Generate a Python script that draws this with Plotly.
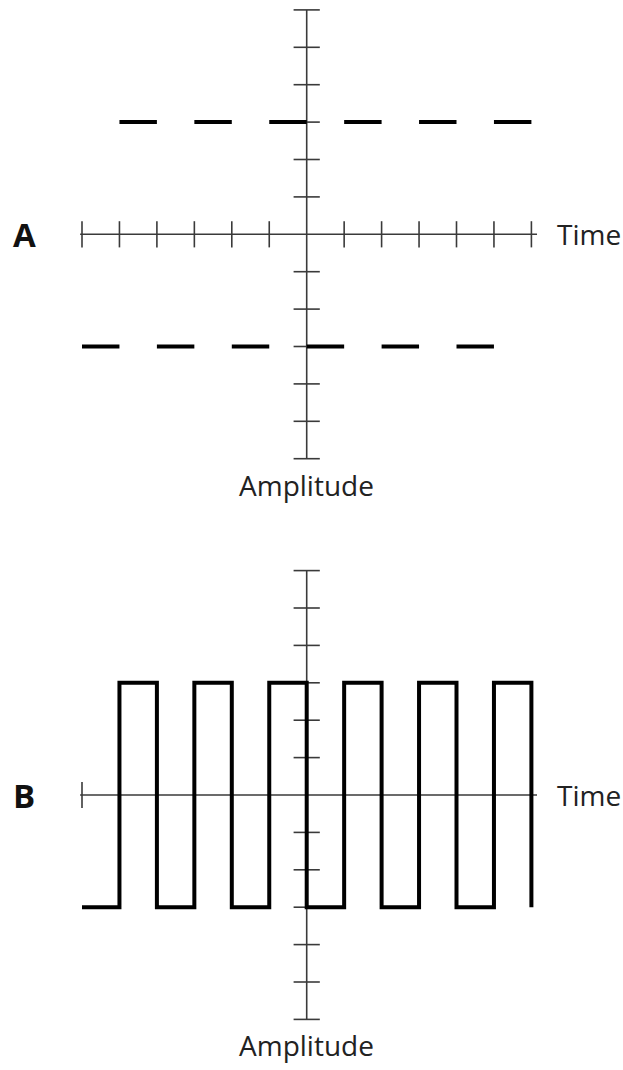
import plotly.graph_objects as go

# ---- data ----
edge_times = [-6, -5, -4, -3, -2, -1, 0, 1, 2, 3, 4, 5, 6]
interval_levels = [-3, 3, -3, 3, -3, 3, -3, 3, -3, 3, -3, 3]
final_level = -3
time_ticks_A = [-6, -5, -4, -3, -2, -1, 1, 2, 3, 4, 5, 6]
time_ticks_B = [-6]
amp_ticks = [-6, -5, -4, -3, -2, -1, 1, 2, 3, 4, 5, 6]
time_axis_span = [-6.05, 6.15]
amp_axis_span = [-6, 6]
panel_labels = ["A", "B"]
x_label = "Time"
y_label = "Amplitude"

W, H = 623, 1070
UX = 37.45   # px per unit (x)
UY = 37.4    # px per unit (y)
CX = 306.7   # px of origin (x)
CY_A = 234.3
CY_B = 795.0
SPLIT = 535.0

TICK = 0.35
AXIS_COLOR = "#3a3a3a"
AXIS_W = 1.6
WAVE_W = 4

fig = go.Figure()


def axis_traces(xa, ya, xticks):
    fig.add_trace(go.Scatter(x=time_axis_span, y=[0, 0], mode="lines",
                             line=dict(color=AXIS_COLOR, width=AXIS_W),
                             xaxis=xa, yaxis=ya, hoverinfo="skip"))
    fig.add_trace(go.Scatter(x=[0, 0], y=amp_axis_span, mode="lines",
                             line=dict(color=AXIS_COLOR, width=AXIS_W),
                             xaxis=xa, yaxis=ya, hoverinfo="skip"))
    tx, ty = [], []
    for t in xticks:
        tx += [t, t, None]
        ty += [-TICK, TICK, None]
    for a in amp_ticks:
        tx += [-TICK, TICK, None]
        ty += [a, a, None]
    fig.add_trace(go.Scatter(x=tx, y=ty, mode="lines",
                             line=dict(color=AXIS_COLOR, width=AXIS_W),
                             xaxis=xa, yaxis=ya, hoverinfo="skip"))


# Panel A
axis_traces("x", "y", time_ticks_A)
dx, dy = [], []
for i, lvl in enumerate(interval_levels):
    dx += [edge_times[i], edge_times[i + 1], None]
    dy += [lvl, lvl, None]
fig.add_trace(go.Scatter(x=dx, y=dy, mode="lines",
                         line=dict(color="black", width=WAVE_W),
                         xaxis="x", yaxis="y", hoverinfo="skip"))

# Panel B
axis_traces("x2", "y2", time_ticks_B)
fig.add_trace(go.Scatter(x=edge_times, y=interval_levels + [final_level],
                         mode="lines", line=dict(color="black", width=WAVE_W, shape="hv"),
                         xaxis="x2", yaxis="y2", hoverinfo="skip"))

xr = [-CX / UX, (W - CX) / UX]
yrA = [-(SPLIT - CY_A) / UY, CY_A / UY]
yrB = [-(H - CY_B) / UY, (CY_B - SPLIT) / UY]
dom_split = 1 - SPLIT / H

hidden = dict(visible=False, showgrid=False, zeroline=False, fixedrange=True)
fig.update_layout(
    width=W, height=H,
    margin=dict(l=0, r=0, t=0, b=0, pad=0),
    paper_bgcolor="white", plot_bgcolor="white",
    showlegend=False,
    xaxis=dict(range=xr, domain=[0, 1], anchor="y", **hidden),
    yaxis=dict(range=yrA, domain=[dom_split, 1], anchor="x", **hidden),
    xaxis2=dict(range=xr, domain=[0, 1], anchor="y2", **hidden),
    yaxis2=dict(range=yrB, domain=[0, dom_split], anchor="x2", **hidden),
)

font_lbl = dict(family="Open Sans", size=28, color="#222222")
font_panel = dict(family="Open Sans", size=33, color="#111111")
for lbl, xa, ya in [(panel_labels[0], "x", "y"), (panel_labels[1], "x2", "y2")]:
    fig.add_annotation(x=(24 - CX) / UX, y=0, xref=xa, yref=ya, text="<b>" + lbl + "</b>",
                       showarrow=False, xanchor="center", yanchor="middle", font=font_panel)
    fig.add_annotation(x=(555 - CX) / UX, y=0, xref=xa, yref=ya, text=x_label,
                       showarrow=False, xanchor="left", yanchor="middle", font=font_lbl)
    fig.add_annotation(x=0, y=amp_axis_span[0], xref=xa, yref=ya, text=y_label,
                       showarrow=False, xanchor="center", yanchor="top", yshift=-5,
                       font=font_lbl)

fig.write_html("out.html", config={"displayModeBar": False},
               post_script="document.body.style.margin='0';document.body.style.overflow='hidden';")
